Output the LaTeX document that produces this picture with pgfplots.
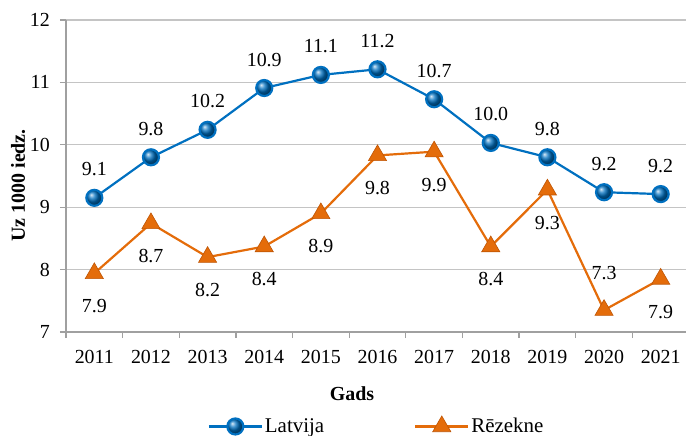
\documentclass[border=0pt]{standalone}
\usepackage{pgfplots}
\pgfplotsset{compat=1.18}
\usepackage{pgfplotstable}
\usepackage{fontspec}
\setmainfont{Liberation Serif}
\definecolor{lvblue}{RGB}{0,112,192}
\definecolor{rzorange}{RGB}{228,108,10}
\definecolor{rzedge}{RGB}{190,85,5}
\definecolor{gridgray}{RGB}{196,196,196}
\definecolor{axgray}{RGB}{160,160,160}

\pgfplotstableread{
x y lab
0 9.15 9.1
1 9.80 9.8
2 10.24 10.2
3 10.91 10.9
4 11.12 11.1
5 11.21 11.2
6 10.73 10.7
7 10.03 10.0
8 9.80 9.8
9 9.24 9.2
10 9.21 9.2
}\latvija

\pgfplotstableread{
x y lab
0 7.94 7.9
1 8.74 8.7
2 8.20 8.2
3 8.37 8.4
4 8.90 8.9
5 9.83 9.8
6 9.89 9.9
7 8.37 8.4
8 9.28 9.3
9 7.35 7.3
10 7.85 7.9
}\rezekne

\begin{document}
\begin{tikzpicture}[font=\fontsize{20}{23}\selectfont]
\begin{axis}[
  at={(0,0)}, anchor=south west,
  scale only axis, width=623bp, height=312bp,
  xmin=-0.5, xmax=10.5, ymin=7, ymax=12,
  /pgf/number format/assume math mode=true,
  axis x line*=bottom, axis y line*=left,
  axis line style={draw=axgray, line width=1.3bp},
  tick style={draw=axgray, line width=1.3bp},
  tick align=outside, major tick length=6bp,
  xtick={-0.5,0.5,...,10.5}, xticklabels={},
  extra x ticks={0,1,2,3,4,5,6,7,8,9,10},
  extra x tick labels={2011,2012,2013,2014,2015,2016,2017,2018,2019,2020,2021},
  extra x tick style={major tick length=0pt, tick style={draw=none},
    xticklabel style={anchor=north, inner sep=0pt, yshift=-18bp}},
  ytick={7,8,9,10,11,12},
  yticklabel style={anchor=east, inner sep=0pt, xshift=-10bp},
  ymajorgrids, grid style={draw=gridgray, line width=1.3bp},
  xlabel={\textbf{Gads}},
  xlabel style={at={(axis description cs:0.459,-0.199)}, anchor=center, inner sep=0pt},
  ylabel={\textbf{Uz 1000 iedz.}},
  ylabel style={at={(axis description cs:-0.077,0.47)}, anchor=center, inner sep=0pt},
  legend columns=2,
  legend style={draw=none, fill=none, at={(axis description cs:0.4985,-0.302)}, anchor=center,
    font=\fontsize{21}{24}\selectfont,
    /tikz/every even column/.append style={column sep=88bp},
    nodes={inner sep=2bp}},
  legend image code/.code={\draw[mark repeat=2,mark phase=2,#1] plot coordinates {(0bp,0bp) (26.5bp,0bp) (53bp,0bp)};},
  clip=false,
]
\addplot[color=lvblue, line width=2.2bp, mark=ball, mark size=8bp,
  mark options={ball color=lvblue, draw=none}]
  table[x=x, y=y] {\latvija};
\addlegendentry{Latvija}
\addplot[color=rzorange, line width=2.2bp, mark=triangle*, mark size=10.5bp,
  mark options={fill=rzorange, draw=rzedge, line width=0.6bp}]
  table[x=x, y=y] {\rezekne};
\addlegendentry{Rēzekne}
% data labels
\addplot[forget plot, draw=none, mark=none,
  nodes near coords, point meta=explicit symbolic,
  every node near coord/.append style={anchor=center, text=black, yshift=28.5bp, inner sep=0pt}]
  table[x=x, y=y, meta=lab] {\latvija};
\addplot[forget plot, draw=none, mark=none,
  skip coords between index={9}{10},
  nodes near coords, point meta=explicit symbolic,
  every node near coord/.append style={anchor=center, text=black, yshift=-33bp, inner sep=0pt}]
  table[x=x, y=y, meta=lab] {\rezekne};
\addplot[forget plot, draw=none, mark=none,
  skip coords between index={0}{9}, skip coords between index={10}{11},
  nodes near coords, point meta=explicit symbolic,
  every node near coord/.append style={anchor=center, text=black, yshift=37bp, inner sep=0pt}]
  table[x=x, y=y, meta=lab] {\rezekne};
\end{axis}
\pgfresetboundingbox
\useasboundingbox (-66bp,-104bp) rectangle (620bp,332bp);
\end{tikzpicture}
\end{document}
